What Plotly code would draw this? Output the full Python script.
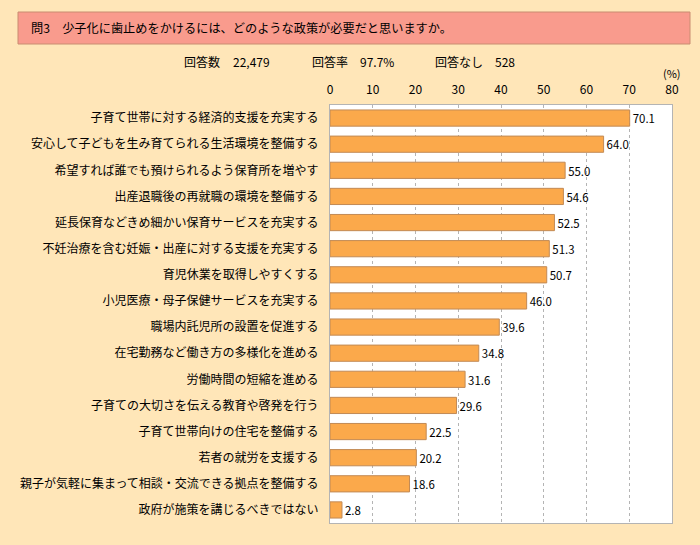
import plotly.graph_objects as go

categories = [
    "子育て世帯に対する経済的支援を充実する",
    "安心して子どもを生み育てられる生活環境を整備する",
    "希望すれば誰でも預けられるよう保育所を増やす",
    "出産退職後の再就職の環境を整備する",
    "延長保育などきめ細かい保育サービスを充実する",
    "不妊治療を含む妊娠・出産に対する支援を充実する",
    "育児休業を取得しやすくする",
    "小児医療・母子保健サービスを充実する",
    "職場内託児所の設置を促進する",
    "在宅勤務など働き方の多様化を進める",
    "労働時間の短縮を進める",
    "子育ての大切さを伝える教育や啓発を行う",
    "子育て世帯向けの住宅を整備する",
    "若者の就労を支援する",
    "親子が気軽に集まって相談・交流できる拠点を整備する",
    "政府が施策を講じるべきではない",
]
values = [70.1, 64.0, 55.0, 54.6, 52.5, 51.3, 50.7, 46.0, 39.6, 34.8, 31.6, 29.6, 22.5, 20.2, 18.6, 2.8]
tick_vals = [0, 10, 20, 30, 40, 50, 60, 70, 80]

title_text = "問3　少子化に歯止めをかけるには、どのような政策が必要だと思いますか。"
info_labels = ["回答数", "回答率", "回答なし"]
info_values = ["22,479", "97.7%", "528"]

W, H = 700, 545
L, R, T, B = 330, 28, 105, 22
PW = W - L - R
PH = H - T - B

def px_x(x):
    return (x - L) / PW

def px_y(y):
    return (H - B - y) / PH

FONT = "Noto Sans CJK JP"

fig = go.Figure(go.Bar(
    y=categories,
    x=values,
    orientation="h",
    marker=dict(color="#FBA94B", line=dict(color="#C28A55", width=1)),
    text=values,
    texttemplate="%{x:.1f}",
    textposition="outside",
    textfont=dict(size=12, color="black", family=FONT),
    cliponaxis=False,
))

annotations = [
    dict(text=title_text, xref="paper", yref="paper", x=px_x(29), y=px_y(28),
         xanchor="left", yanchor="middle", showarrow=False, font=dict(size=12.2)),
    dict(text="(%)", xref="paper", yref="paper", x=px_x(683), y=px_y(73),
         xanchor="right", yanchor="middle", showarrow=False, font=dict(size=11)),
]
label_x = [182, 310, 433]
value_x = [231, 358, 493]
for lab, val, lx, vx in zip(info_labels, info_values, label_x, value_x):
    annotations.append(dict(text=lab, xref="paper", yref="paper", x=px_x(lx), y=px_y(62),
                            xanchor="left", yanchor="middle", showarrow=False, font=dict(size=12)))
    annotations.append(dict(text=val, xref="paper", yref="paper", x=px_x(vx), y=px_y(62),
                            xanchor="left", yanchor="middle", showarrow=False, font=dict(size=12)))

fig.update_layout(
    width=W, height=H,
    margin=dict(l=L, r=R, t=T, b=B, autoexpand=False),
    paper_bgcolor="#FFE6B8",
    plot_bgcolor="white",
    bargap=0.38,
    showlegend=False,
    font=dict(family=FONT, size=12, color="black"),
    xaxis=dict(
        range=[0, 80], side="top", tickvals=tick_vals,
        showgrid=True, gridcolor="#B4B4B4", griddash="dot", gridwidth=1,
        showline=True, linecolor="#B4B4B4", mirror=True, linewidth=1,
        zeroline=False, ticks="", tickfont=dict(size=12), ticklabelstandoff=5,
    ),
    yaxis=dict(
        autorange="reversed", showline=True, linecolor="#B4B4B4", mirror=True,
        ticks="", tickfont=dict(size=12), ticklabelstandoff=8,
    ),
    shapes=[dict(
        type="rect", xref="paper", yref="paper",
        x0=px_x(18), x1=px_x(690), y0=px_y(44), y1=px_y(12),
        fillcolor="#F99B8D", line=dict(color="#C98C70", width=1), layer="below",
    )],
    annotations=annotations,
)

fig.write_html(
    "out.html",
    config={"displayModeBar": False},
    post_script="document.body.style.margin='0';document.body.style.overflow='hidden';",
)
